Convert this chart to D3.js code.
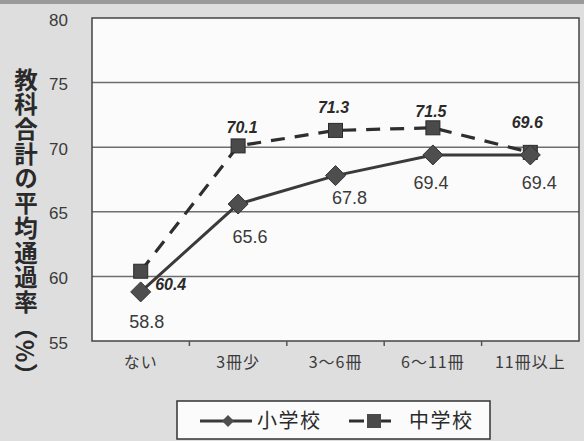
<!DOCTYPE html>
<html><head><meta charset="utf-8">
<script src="https://cdn.jsdelivr.net/npm/d3@7"></script>
<style>
html,body{margin:0;padding:0;background:#dedede;}
svg{display:block;}
</style></head>
<body>
<svg id="c" width="584" height="441"></svg>
<script>
const categories = ["ない","3冊少","3〜6冊","6〜11冊","11冊以上"];
const elementary = [58.8, 65.6, 67.8, 69.4, 69.4];
const junior = [60.4, 70.1, 71.3, 71.5, 69.6];
const yTicks = [55, 60, 65, 70, 75, 80];
const seriesNames = ["小学校", "中学校"];
const yTitle = "教科合計の平均通過率（%）";

const svg = d3.select("#c");
const W = 584, H = 441;
const m = {l: 92, r: 5, t: 18, b: 100};
const pw = W - m.l - m.r, ph = H - m.t - m.b;

svg.append("rect").attr("width", W).attr("height", H).attr("fill", "#dedede");
svg.append("rect").attr("width", W).attr("height", 4).attr("fill", "#9a9a9a");

const x = d3.scaleBand().domain(categories).range([m.l, m.l + pw]);
const y = d3.scaleLinear().domain([55, 80]).range([m.t + ph, m.t]);

// plot area
svg.append("rect").attr("x", m.l).attr("y", m.t).attr("width", pw).attr("height", ph)
  .attr("fill", "#fbfbfb");

// gridlines
svg.append("g").selectAll("line").data(yTicks.filter(v => v > 55 && v < 80)).join("line")
  .attr("x1", m.l).attr("x2", m.l + pw)
  .attr("y1", d => y(d)).attr("y2", d => y(d))
  .attr("stroke", "#6e6e6e").attr("stroke-width", 1.5);

svg.append("rect").attr("x", m.l).attr("y", m.t).attr("width", pw).attr("height", ph)
  .attr("fill", "none").attr("stroke", "#444").attr("stroke-width", 1.5);

// y axis
const ya = svg.append("g").attr("transform", `translate(${m.l},0)`)
  .call(d3.axisLeft(y).tickValues(yTicks).tickSize(0).tickPadding(24));
ya.select(".domain").remove();
ya.selectAll("text").attr("font-family", "Liberation Sans, Arial, sans-serif")
  .attr("font-size", 17).attr("fill", "#3a3a3a").attr("dy", "0.42em");

// x axis
const xa = svg.append("g").attr("transform", `translate(0,${m.t + ph})`)
  .call(d3.axisBottom(x).tickSize(0).tickPadding(16));
xa.select(".domain").remove();
xa.selectAll("text").attr("font-family", "Noto Sans CJK JP, sans-serif")
  .attr("font-size", 16).attr("letter-spacing", 1).attr("fill", "#3a3a3a");
// tick marks between categories
svg.append("g").selectAll("line").data(categories.slice(1)).join("line")
  .attr("x1", d => x(d)).attr("x2", d => x(d))
  .attr("y1", m.t + ph).attr("y2", m.t + ph + 5)
  .attr("stroke", "#555").attr("stroke-width", 1.5);

// y title vertical
svg.append("text")
  .attr("x", 26).attr("y", 68)
  .style("writing-mode", "vertical-rl")
  .attr("font-family", "Noto Sans CJK JP, sans-serif")
  .attr("font-weight", "bold").attr("font-size", 23.5)
  .attr("letter-spacing", 1.2)
  .attr("fill", "#2a2a2a")
  .text(yTitle);

const cx = d => x(d) + x.bandwidth() / 2;
const line = d3.line().x(d => cx(d.c)).y(d => y(d.v));
const eData = categories.map((c, i) => ({c, v: elementary[i]}));
const jData = categories.map((c, i) => ({c, v: junior[i]}));

// junior dashed
svg.append("path").datum(jData).attr("d", line)
  .attr("fill", "none").attr("stroke", "#2e2e2e").attr("stroke-width", 3.2)
  .attr("stroke-dasharray", "14,10");
// elementary solid
svg.append("path").datum(eData).attr("d", line)
  .attr("fill", "none").attr("stroke", "#3a3a3a").attr("stroke-width", 3);

// markers
svg.append("g").selectAll("rect").data(jData).join("rect")
  .attr("x", d => cx(d.c) - 7).attr("y", d => y(d.v) - 7)
  .attr("width", 14).attr("height", 14)
  .attr("fill", "#4a4a4a").attr("stroke", "#2a2a2a").attr("stroke-width", 1);
svg.append("g").selectAll("path").data(eData).join("path")
  .attr("transform", d => `translate(${cx(d.c)},${y(d.v)})`)
  .attr("d", "M0,-10L10,0L0,10L-10,0Z")
  .attr("fill", "#4e4e4e").attr("stroke", "#333").attr("stroke-width", 1);

// labels elementary
const eOff = [[6, 36], [12, 39], [14, 28], [-2, 34], [9, 34]];
svg.append("g").selectAll("text").data(eData).join("text")
  .attr("x", (d, i) => cx(d.c) + eOff[i][0]).attr("y", (d, i) => y(d.v) + eOff[i][1])
  .attr("text-anchor", "middle")
  .attr("font-family", "Liberation Sans, Arial, sans-serif")
  .attr("font-size", 18).attr("fill", "#3a3a3a")
  .text(d => d.v.toFixed(1));

// labels junior
const jOff = [[30, 19], [4, -13], [-2, -17], [-2, -11], [-3, -24]];
svg.append("g").selectAll("text").data(jData).join("text")
  .attr("x", (d, i) => cx(d.c) + jOff[i][0]).attr("y", (d, i) => y(d.v) + jOff[i][1])
  .attr("text-anchor", "middle")
  .attr("font-family", "Liberation Sans, Arial, sans-serif")
  .attr("font-size", 16).attr("font-weight", "bold").attr("font-style", "italic")
  .attr("fill", "#2a2a2a")
  .text(d => d.v.toFixed(1));

// legend
const lg = svg.append("g");
lg.append("rect").attr("x", 177).attr("y", 401).attr("width", 313).attr("height", 38)
  .attr("fill", "#fbfbfb").attr("stroke", "#333").attr("stroke-width", 1.5);
lg.append("line").attr("x1", 200).attr("x2", 252).attr("y1", 421).attr("y2", 421)
  .attr("stroke", "#3a3a3a").attr("stroke-width", 3);
lg.append("path").attr("transform", "translate(228,421)").attr("d", "M0,-6L6,0L0,6L-6,0Z")
  .attr("fill", "#4e4e4e");
lg.append("text").attr("x", 257).attr("y", 428).text(seriesNames[0]);
lg.append("line").attr("x1", 349).attr("x2", 364).attr("y1", 421).attr("y2", 421)
  .attr("stroke", "#2e2e2e").attr("stroke-width", 3);
lg.append("line").attr("x1", 376).attr("x2", 391).attr("y1", 421).attr("y2", 421)
  .attr("stroke", "#2e2e2e").attr("stroke-width", 3);
lg.append("rect").attr("x", 367).attr("y", 414).attr("width", 14).attr("height", 14)
  .attr("fill", "#4a4a4a");
lg.append("text").attr("x", 409).attr("y", 428).text(seriesNames[1]);
lg.selectAll("text").attr("font-family", "Noto Sans CJK JP, sans-serif")
  .attr("font-size", 20).attr("letter-spacing", 1.5).attr("fill", "#2a2a2a");
</script>
</body></html>
